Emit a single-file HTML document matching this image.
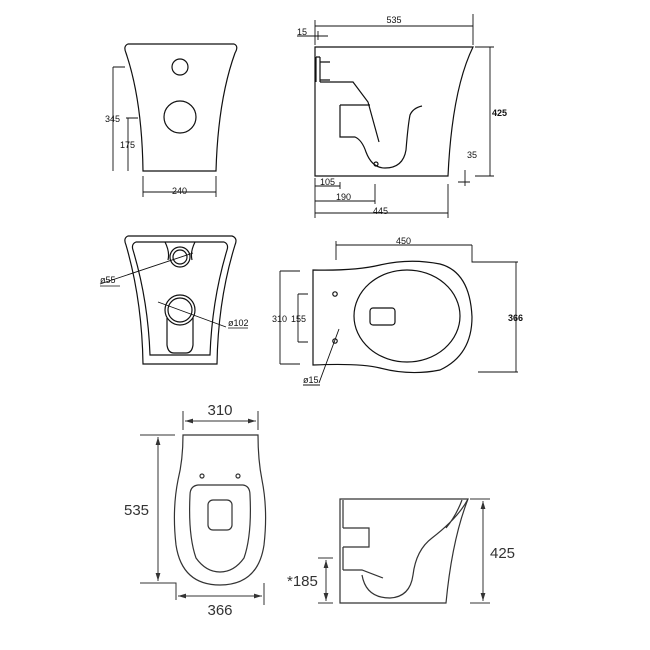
<!DOCTYPE html>
<html><head><meta charset="utf-8"><style>
html,body{margin:0;padding:0;background:#fff;}
svg{display:block}
.s{font-family:"Liberation Sans",sans-serif;font-size:9px;fill:#111}
.b{font-family:"Liberation Sans",sans-serif;font-size:15px;fill:#333}
</style></head><body>
<svg width="650" height="650" viewBox="0 0 650 650" xmlns="http://www.w3.org/2000/svg">
<defs>
<marker id="a" viewBox="0 0 10 10" refX="10" refY="5" markerWidth="8" markerHeight="8" orient="auto-start-reverse"><path d="M0,2 L10,5 L0,8 z" fill="#333"/></marker>
</defs>
<g fill="none" stroke="#111" stroke-width="1.2">
<!-- Panel 1 -->
<path d="M128,44 L234,44 Q239,46 235,53 Q218,100 216,171 L143,171 Q142,100 126,53 Q123,46 128,44 Z"/>
<circle cx="180" cy="67" r="8"/>
<circle cx="180" cy="117" r="16"/>
<path d="M113,67 V171 M113,67 H125 M128,118 V171 M126,118 H138 M143,176 V197 M216,176 V197 M143,192 H216" stroke-width="0.9"/>
<!-- Panel 2 -->
<path d="M315,47 H473 Q452,90 448,176 H315 Z"/>
<path d="M316,57 V82 M320,57 V82 M316,57 H320 M320,62 H330 M320,80 H330 M320,82 H353 L368,102 L379,142"/>
<path d="M340,105 H370 M340,105 V137 H355 Q362,140 366,152 Q372,168 385,168 Q403,168 406,150 Q408,125 410,115 Q413,108 422,106"/>
<circle cx="376" cy="164" r="2"/>
<path d="M315,20 V45 M473,14 V45 M315,26 H473 M297,36 H328 M318,31 V40 M475,47 H494 M475,176 H494 M490,47 V176 M458,182 H470 M465,170 V186 M315,178 V218 M340,182 V189 M375,184 V204 M448,184 V218 M315,186 H340 M315,201 H375 M315,213 H448" stroke-width="0.9"/>
<!-- Panel 3 -->
<path d="M128,236 L232,236 Q238,238 235,245 Q218,300 217,364 L143,364 Q142,300 126,245 Q123,238 128,236 Z"/>
<path d="M136,242 L224,242 Q229,244 227,250 Q212,300 210,355 L150,355 Q148,300 133,250 Q131,244 136,242 Z"/>
<path d="M165,242 Q170,252 168,260 M195,242 Q190,252 192,260"/>
<circle cx="180" cy="257" r="10"/><circle cx="180" cy="257" r="7"/>
<circle cx="180" cy="310" r="15"/><circle cx="180" cy="310" r="12"/>
<path d="M167,318 V345 Q168,353 174,353 H186 Q192,353 193,345 V318"/>
<path d="M100,284 L193,253 M158,302 L226,327" stroke-width="0.9"/>
<path d="M100,286 H120 M228,328 H248" stroke-width="0.8"/>
<!-- Panel 4 -->
<path d="M313,270 L313,365 Q360,363 380,368 Q410,376 440,370 Q472,355 472,317 Q470,272 440,264 Q410,258 380,265 Q355,271 313,270 Z"/>
<ellipse cx="407" cy="316" rx="53" ry="46"/>
<rect x="370" y="308" width="25" height="17" rx="3"/>
<circle cx="335" cy="294" r="2.2"/><circle cx="335" cy="341" r="2.2"/>
<path d="M336,245 H472 M336,241 V260 M472,245 V262 H518 M516,262 V372 M478,372 H518 M280,271 V364 M280,271 H300 M280,364 H300 M298,294 V342 M298,294 H308 M298,342 H308 M339,329 L319,383 M303,385 H320" stroke-width="0.9"/>
<!-- Panel 5 -->
<path d="M183,435 H258 Q258,460 262,480 Q268,510 264,545 Q258,585 220,585 Q182,585 176,545 Q172,510 178,480 Q183,460 183,435 Z" stroke="#333"/>
<path d="M198,485 H243 Q250,486 250,495 Q252,535 244,558 Q234,572 220,572 Q206,572 196,558 Q188,535 190,495 Q190,486 198,485 Z" stroke="#333"/>
<rect x="208" y="500" width="24" height="30" rx="5" stroke="#333"/>
<circle cx="202" cy="476" r="2" stroke="#333"/><circle cx="238" cy="476" r="2" stroke="#333"/>
<!-- Panel 6 -->
<path d="M340,499 H468 Q452,540 446,603 H340 Z" stroke="#333"/>
<path d="M343,500 V528 M343,547 V570 M343,528 H369 V547 H343 M343,570 H362 L383,578 M362,575 Q366,598 390,598 Q410,597 413,575 Q416,550 432,538 Q458,518 468,499 M462,500 Q456,516 446,528" stroke="#333"/>
</g>
<g stroke="#333" stroke-width="1" fill="none">
<path d="M183,411 V430 M258,411 V430 M140,435 H175 M140,583 H176 V600 M264,583 V605 M470,499 H490 M470,603 H490 M318,558 H333 M318,603 H333"/>
<path d="M185,421 H256" marker-start="url(#a)" marker-end="url(#a)"/>
<path d="M158,437 V581" marker-start="url(#a)" marker-end="url(#a)"/>
<path d="M178,596 H262" marker-start="url(#a)" marker-end="url(#a)"/>
<path d="M483,501 V601" marker-start="url(#a)" marker-end="url(#a)"/>
<path d="M326,560 V601" marker-start="url(#a)" marker-end="url(#a)"/>
</g>
<text class="s" x="394" y="23" text-anchor="middle">535</text>
<text class="s" x="297" y="35">15</text>
<text class="s" x="492" y="116" style="font-weight:bold">425</text>
<text class="s" x="467" y="158">35</text>
<text class="s" x="320" y="185">105</text>
<text class="s" x="336" y="200">190</text>
<text class="s" x="373" y="214">445</text>
<text class="s" x="105" y="122">345</text>
<text class="s" x="120" y="148">175</text>
<text class="s" x="172" y="194">240</text>
<text class="s" x="100" y="283">ø55</text>
<text class="s" x="228" y="326">ø102</text>
<text class="s" x="396" y="244">450</text>
<text class="s" x="508" y="321" style="font-weight:bold">366</text>
<text class="s" x="272" y="322">310</text>
<text class="s" x="291" y="322">155</text>
<text class="s" x="303" y="383">ø15</text>
<text class="b" x="220" y="415" text-anchor="middle">310</text>
<text class="b" x="124" y="515">535</text>
<text class="b" x="220" y="615" text-anchor="middle">366</text>
<text class="b" x="490" y="558">425</text>
<text class="b" x="287" y="586">*185</text>
</svg>
</body></html>
